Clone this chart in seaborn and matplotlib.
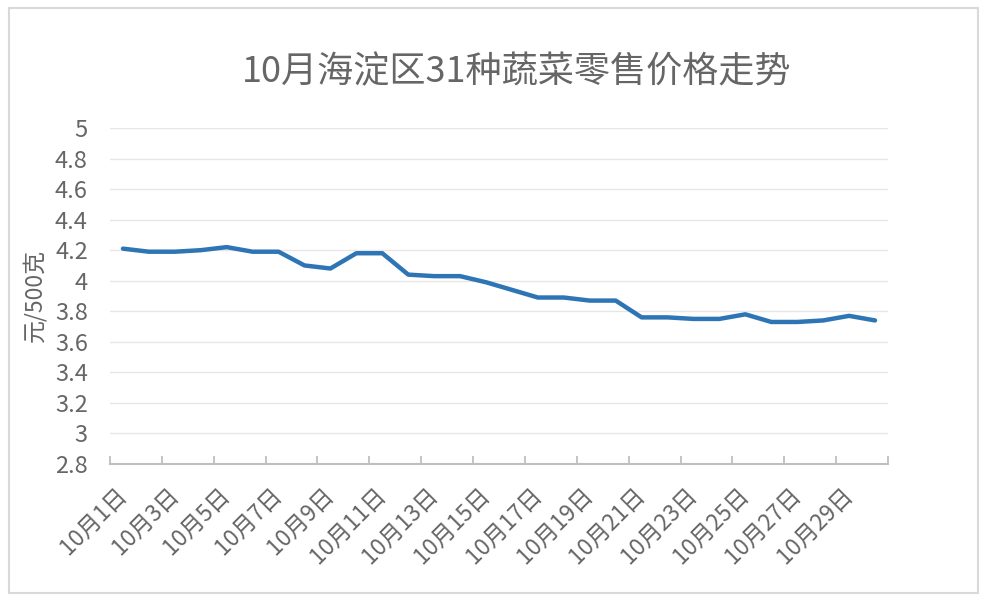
import numpy as np
import matplotlib
matplotlib.use('Agg')
import matplotlib.pyplot as plt
import seaborn as sns
from matplotlib.patches import Rectangle

days = [f'10月{d}日' for d in range(1, 31)]
prices = [4.21, 4.19, 4.19, 4.20, 4.22, 4.19, 4.19, 4.10, 4.08, 4.18,
          4.18, 4.04, 4.03, 4.03, 3.99, 3.94, 3.89, 3.89, 3.87, 3.87,
          3.76, 3.76, 3.75, 3.75, 3.78, 3.73, 3.73, 3.74, 3.77, 3.74]
y_ticks = [2.8, 3.0, 3.2, 3.4, 3.6, 3.8, 4.0, 4.2, 4.4, 4.6, 4.8, 5.0]
y_tick_labels = ['2.8', '3', '3.2', '3.4', '3.6', '3.8', '4', '4.2', '4.4', '4.6', '4.8', '5']

title = '10月海淀区31种蔬菜零售价格走势'
ylabel = '元/500克'

sns.set_theme(style='white')
plt.rcParams['font.family'] = ['Noto Sans CJK SC', 'DejaVu Sans']

text_color = '#666666'

fig = plt.figure(figsize=(9.89, 6.01), dpi=100)
fig.patch.set_facecolor('white')
ax = fig.add_axes([110 / 989, 1 - 464 / 601, 778 / 989, 336 / 601])

sns.lineplot(x=days, y=prices, ax=ax, color='#2E75B6', linewidth=3.2, sort=False)

ax.set_xlim(-0.5, len(days) - 0.5)
ax.set_ylim(2.8, 5.0)
ax.set_yticks(y_ticks)
ax.set_yticklabels(y_tick_labels)

ax.set_xticks(range(0, len(days), 2))
ax.set_xticklabels(days[::2], rotation=45, ha='right', va='center', rotation_mode='anchor')
ax.set_xticks(np.arange(-0.5, len(days), 2), minor=True)
ax.tick_params(axis='x', which='major', bottom=True, length=0, pad=20, labelsize=16.5, labelcolor=text_color)
ax.tick_params(axis='x', which='minor', bottom=True, direction='in', length=6, width=1.3, color='#bfbfbf')
ax.tick_params(axis='y', length=0, pad=16, labelsize=17, labelcolor=text_color)

for s in ['top', 'right', 'left']:
    ax.spines[s].set_visible(False)
ax.spines['bottom'].set_color('#bfbfbf')
ax.spines['bottom'].set_linewidth(1.5)

for v in y_ticks[1:]:
    ax.axhline(v, color='#e6e6e6', linewidth=1, zorder=0)

ax.set_xlabel('')
ax.set_ylabel(ylabel, fontsize=16.5, color=text_color, labelpad=6)

fig.text(517 / 989, 1 - 72 / 601, title, fontsize=26, color=text_color, ha='center', va='center')

fig.patches.append(Rectangle((9 / 989, 8 / 601), 969 / 989, 585 / 601, transform=fig.transFigure,
                             fill=False, edgecolor='#d9d9d9', linewidth=1.5))

fig.savefig('out.png', dpi=100)
